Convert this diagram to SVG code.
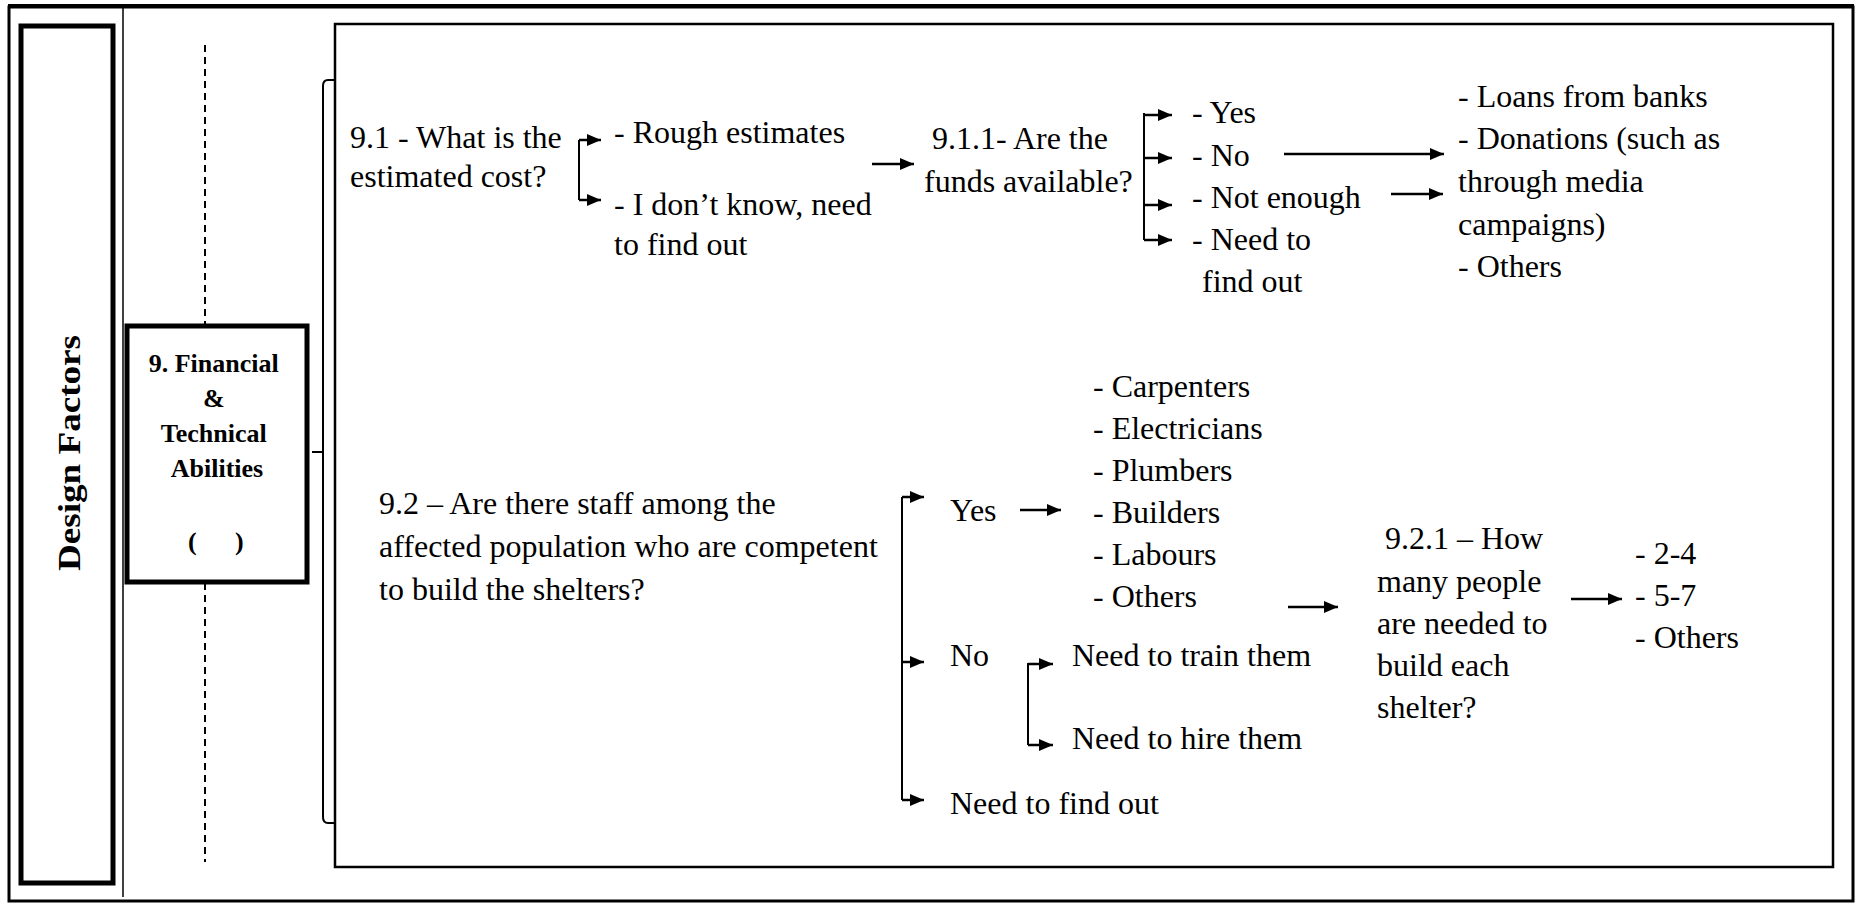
<svg xmlns="http://www.w3.org/2000/svg" width="1856" height="904" viewBox="0 0 1856 904">
<defs>
<marker id="ah" markerUnits="userSpaceOnUse" markerWidth="14" markerHeight="12" refX="14" refY="6" orient="auto">
<path d="M0,0 L14,6 L0,12 z" fill="#000"/>
</marker>
<style>
.t{font-family:"Liberation Serif","Times New Roman",serif;font-size:32px;fill:#000}
.b{font-family:"Liberation Serif","Times New Roman",serif;font-weight:bold;fill:#000}
.ln{stroke:#000;stroke-width:2;fill:none}
.ar{stroke:#000;stroke-width:2.5;fill:none;marker-end:url(#ah)}
</style>
</defs>
<rect width="1856" height="904" fill="#fff"/>
<g id="frame">
<rect x="9" y="7" width="1844" height="894" fill="none" stroke="#000" stroke-width="3"/>
<line x1="8" y1="6" x2="1854" y2="6" stroke="#000" stroke-width="4"/>
<line x1="123" y1="8" x2="123" y2="897" stroke="#000" stroke-width="1.5"/>
</g>
<g id="design-factors">
<rect x="21" y="26" width="92" height="857" fill="none" stroke="#000" stroke-width="5"/>
<text class="b" font-size="31" text-anchor="middle" textLength="236" lengthAdjust="spacingAndGlyphs" transform="translate(80,453) rotate(-90)">Design Factors</text>
</g>
<g id="axis">
<line x1="205" y1="45" x2="205" y2="325" stroke="#000" stroke-width="2" stroke-dasharray="7,5"/>
<line x1="205" y1="583" x2="205" y2="862" stroke="#000" stroke-width="2" stroke-dasharray="7,5"/>
</g>
<g id="financial">
<rect x="127" y="326" width="180" height="256" fill="#fff" stroke="#000" stroke-width="5"/>
<text class="b" font-size="26" text-anchor="middle">
<tspan x="217" y="372">9. Financial</tspan>
<tspan x="217" y="407">&amp;</tspan>
<tspan x="217" y="442">Technical</tspan>
<tspan x="217" y="477">Abilities</tspan>
</text>
<text class="b" font-size="26"><tspan x="188" y="550">(</tspan><tspan x="235" y="550">)</tspan></text>
</g>
<g id="content-box">
<rect x="335" y="24" width="1498" height="843" fill="none" stroke="#000" stroke-width="2.5"/>
</g>
<g id="connectors">
<path class="ln" d="M335,80 L328,80 Q323,80 323,86 L323,817 Q323,823 328,823 L335,823"/>
<line class="ln" x1="312" y1="452" x2="323" y2="452"/>
<path class="ln" d="M579,140 L579,200"/>
<line class="ar" x1="579" y1="140" x2="601" y2="140"/>
<line class="ar" x1="579" y1="200" x2="601" y2="200"/>
<line class="ar" x1="872" y1="164" x2="914" y2="164"/>
<path class="ln" d="M1144,113 L1144,240"/>
<line class="ar" x1="1144" y1="115" x2="1172" y2="115"/>
<line class="ar" x1="1144" y1="158" x2="1172" y2="158"/>
<line class="ar" x1="1144" y1="205" x2="1172" y2="205"/>
<line class="ar" x1="1144" y1="240" x2="1172" y2="240"/>
<line class="ar" x1="1284" y1="154" x2="1444" y2="154"/>
<line class="ar" x1="1391" y1="194" x2="1443" y2="194"/>
<path class="ln" d="M902,497 L902,800"/>
<line class="ar" x1="902" y1="497" x2="924" y2="497"/>
<line class="ar" x1="902" y1="662" x2="924" y2="662"/>
<line class="ar" x1="902" y1="800" x2="924" y2="800"/>
<line class="ar" x1="1020" y1="510" x2="1061" y2="510"/>
<path class="ln" d="M1028,663 L1028,745"/>
<line class="ar" x1="1028" y1="664" x2="1053" y2="664"/>
<line class="ar" x1="1028" y1="745" x2="1053" y2="745"/>
<line class="ar" x1="1288" y1="607" x2="1338" y2="607"/>
<line class="ar" x1="1571" y1="599" x2="1622" y2="599"/>
</g>
<g id="q91">
<text class="t"><tspan x="350" y="148">9.1 - What is the</tspan><tspan x="350" y="187">estimated cost?</tspan></text>
</g>
<g id="q91-options">
<text class="t"><tspan x="614" y="143">- Rough estimates</tspan><tspan x="614" y="215">- I don’t know, need</tspan><tspan x="614" y="255">to find out</tspan></text>
</g>
<g id="q911">
<text class="t"><tspan x="932" y="149">9.1.1- Are the</tspan><tspan x="924" y="192">funds available?</tspan></text>
</g>
<g id="q911-options">
<text class="t"><tspan x="1192" y="123">- Yes</tspan><tspan x="1192" y="166">- No</tspan><tspan x="1192" y="208">- Not enough</tspan><tspan x="1192" y="250">- Need to</tspan><tspan x="1202" y="292">find out</tspan></text>
</g>
<g id="funding-sources">
<text class="t"><tspan x="1458" y="107">- Loans from banks</tspan><tspan x="1458" y="149">- Donations (such as</tspan><tspan x="1458" y="192">through media</tspan><tspan x="1458" y="235">campaigns)</tspan><tspan x="1458" y="277">- Others</tspan></text>
</g>
<g id="q92">
<text class="t"><tspan x="379" y="514">9.2 – Are there staff among the</tspan><tspan x="379" y="557">affected population who are competent</tspan><tspan x="379" y="600">to build the shelters?</tspan></text>
</g>
<g id="q92-options">
<text class="t"><tspan x="950" y="521">Yes</tspan><tspan x="950" y="666">No</tspan><tspan x="950" y="814">Need to find out</tspan></text>
</g>
<g id="trades">
<text class="t"><tspan x="1093" y="397">- Carpenters</tspan><tspan x="1093" y="439">- Electricians</tspan><tspan x="1093" y="481">- Plumbers</tspan><tspan x="1093" y="523">- Builders</tspan><tspan x="1093" y="565">- Labours</tspan><tspan x="1093" y="607">- Others</tspan></text>
</g>
<g id="no-options">
<text class="t"><tspan x="1072" y="666">Need to train them</tspan><tspan x="1072" y="749">Need to hire them</tspan></text>
</g>
<g id="q921">
<text class="t"><tspan x="1385" y="549">9.2.1 – How</tspan><tspan x="1377" y="592">many people</tspan><tspan x="1377" y="634">are needed to</tspan><tspan x="1377" y="676">build each</tspan><tspan x="1377" y="718">shelter?</tspan></text>
</g>
<g id="q921-options">
<text class="t"><tspan x="1635" y="564">- 2-4</tspan><tspan x="1635" y="606">- 5-7</tspan><tspan x="1635" y="648">- Others</tspan></text>
</g>
</svg>
